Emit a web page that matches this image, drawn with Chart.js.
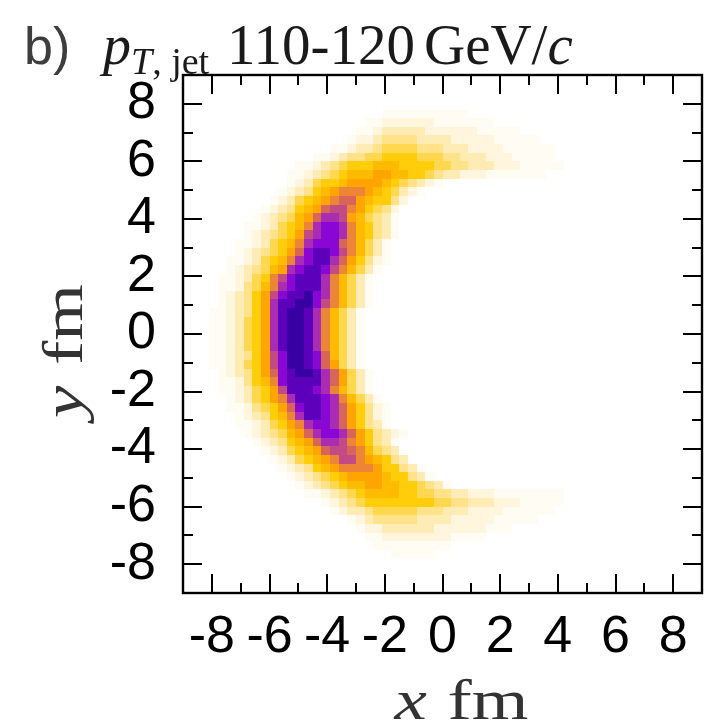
<!DOCTYPE html>
<html>
<head>
<meta charset="utf-8">
<script src="https://cdn.jsdelivr.net/npm/chart.js@4.4.1/dist/chart.umd.min.js"></script>
<style>
  html, body { margin: 0; padding: 0; background: #fff; }
</style>
</head>
<body>
<canvas id="chart" width="723" height="728"></canvas>
<script>
// Histogram binning (fm)
const xRange = [-9, 9];
const yRange = [-9, 9];
const binSize = 0.3;
const tickValues = [-8, -6, -4, -2, 0, 2, 4, 6, 8];

const panelTag = 'b)';
const ptRange = '110-120';

// Density per bin, hex level 0..f. One entry per row, from y = +9 downwards;
// rowStart is the first filled column, rowLevels the levels from there on.
const rowStart = [
    0, 0, 0, 0, 23, 21, 20, 19, 17, 15,
    13, 12, 12, 11, 10, 9, 8, 7, 7, 6,
    6, 5, 5, 4, 4, 4, 4, 3, 3, 3,
    3, 3, 3, 3, 4, 4, 4, 5, 5, 6,
    6, 7, 8, 9, 10, 11, 12, 13, 14, 16,
    17, 19, 20, 21, 22, 24, 0, 0, 0, 0,
];
const rowLevels = [
    '', '', '', '',
    '1111111111',
    '112222221111111',
    '1123333322222211111',
    '1223444433332222211111',
    '11233455554443332222111111',
    '1123445566665554433322211111',
    '1123456667776666554433322211111',
    '112345677788776654332221111111',
    '123566788887654321',
    '12346789998765321',
    '12356789aa876642',
    '1234678abb986542',
    '1234578accb875431',
    '11235679cddc976431',
    '1234568bcddc976431',
    '11235679cddda97531',
    '1234568adeedb97531',
    '11235679cdeeca86421',
    '1234578cdeedb97531',
    '1123569bdeeec97531',
    '1124579cdeeec97531',
    '123468bdeefdc97531',
    '123468ceeffdb97531',
    '1123468ceffec97531',
    '1123568ceffec97531',
    '1123568ceffec97531',
    '1123568ceffec97531',
    '1123568ceffec97531',
    '1123468bdffeda7531',
    '1123568bdffeda8531',
    '123468adeffeca8531',
    '1124679deeeeca8531',
    '1123568beeedc97531',
    '1235689ceeedc97531',
    '1124568adeedca86421',
    '1234679ceedca86421',
    '11235689cddca86431',
    '1234578acddca864321',
    '1234678accb986431',
    '1235678abba97543',
    '12356789bb987643',
    '12346789999866431',
    '12345678888766431',
    '123456778877665431',
    '112345677776655443322211111111',
    '1234566666666554433322211111',
    '12334555554443332222111111',
    '1234444433332222211111',
    '122333333222222111',
    '11222222221111',
    '111111111',
    '11111',
    '', '', '', '',
];

// white -> yellow -> orange -> magenta -> deep violet
const levelColors = [
    null, '#fffcf3', '#fff6dd', '#ffecb4', '#ffe289', '#ffd84f',
    '#ffcd0a', '#ffbb00', '#ffa400', '#ec8535', '#d8655a', '#c24b86',
    '#a92cb2', '#8a06d4', '#5c00bc', '#3800a2',
];

const cells = [];
rowLevels.forEach((levels, row) => {
    for (let i = 0; i < levels.length; i++) {
        const v = parseInt(levels[i], 16);
        if (!v) continue;
        cells.push({
            x: xRange[0] + binSize * (rowStart[row] + i + 0.5),
            y: yRange[1] - binSize * (row + 0.5),
            v: v,
        });
    }
});

const heatCells = {
    id: 'heatCells',
    beforeDatasetsDraw(chart) {
        const {ctx, chartArea: a, scales: {x, y}} = chart;
        const half = binSize / 2;
        ctx.save();
        ctx.beginPath();
        ctx.rect(a.left, a.top, a.width, a.height);
        ctx.clip();
        for (const c of chart.data.datasets[0].data) {
            const l = Math.round(x.getPixelForValue(c.x - half));
            const r = Math.round(x.getPixelForValue(c.x + half));
            const t = Math.round(y.getPixelForValue(c.y + half));
            const b = Math.round(y.getPixelForValue(c.y - half));
            ctx.fillStyle = levelColors[c.v];
            ctx.fillRect(l, t, r - l, b - t);
        }
        ctx.restore();
    },
};

// box with inward ticks on all four sides
const frameTicks = {
    id: 'frameTicks',
    afterDraw(chart) {
        const {ctx, chartArea: a, scales: {x, y}} = chart;
        ctx.save();
        ctx.strokeStyle = '#000';
        ctx.lineWidth = 2;
        ctx.beginPath();
        for (let v = Math.ceil(xRange[0]) + 1; v < xRange[1]; v++) {
            const len = v % 2 === 0 ? 19 : 10;
            const px = Math.round(x.getPixelForValue(v));
            ctx.moveTo(px, a.bottom);
            ctx.lineTo(px, a.bottom - len);
            ctx.moveTo(px, a.top);
            ctx.lineTo(px, a.top + len);
        }
        for (let v = Math.ceil(yRange[0]) + 1; v < yRange[1]; v++) {
            const len = v % 2 === 0 ? 19 : 10;
            const py = Math.round(y.getPixelForValue(v));
            ctx.moveTo(a.left, py);
            ctx.lineTo(a.left + len, py);
            ctx.moveTo(a.right, py);
            ctx.lineTo(a.right - len, py);
        }
        ctx.stroke();
        ctx.lineWidth = 2.4;
        ctx.strokeRect(a.left, a.top, a.width, a.height);
        ctx.restore();
    },
};

const serif = '"Liberation Serif", "Times New Roman", serif';

const titles = {
    id: 'titles',
    afterDraw(chart) {
        const ctx = chart.ctx;
        const a = chart.chartArea;
        ctx.save();
        ctx.textBaseline = 'alphabetic';
        ctx.textAlign = 'left';

        ctx.fillStyle = '#3d3d3d';
        ctx.font = '52px "Liberation Sans"';
        ctx.fillText(panelTag, 24, 64);

        let cx = 103;
        const run = (text, font, dy) => {
            ctx.font = font;
            ctx.fillText(text, cx, 64 + (dy || 0));
            cx += ctx.measureText(text).width;
        };
        ctx.fillStyle = '#1a1a1a';
        run('p', 'italic 56px ' + serif);
        run('T', 'italic 38px ' + serif, 10);
        run(', jet', '38px ' + serif, 10);
        cx += 18;
        run(ptRange, '57px ' + serif);
        cx += 9;
        run('GeV/', '57px ' + serif);
        run('c', 'italic 57px ' + serif);

        // axis titles, slightly widened like the math font
        const axisTitle = (sym, baseX, baseY, rot) => {
            ctx.save();
            ctx.translate(baseX, baseY);
            ctx.rotate(rot);
            ctx.scale(1.3, 1);
            ctx.font = 'italic 56px ' + serif;
            const w1 = ctx.measureText(sym).width + 16;
            ctx.font = '56px ' + serif;
            const w2 = ctx.measureText('fm').width;
            const px = -(w1 + w2) / 2;
            ctx.font = 'italic 56px ' + serif;
            ctx.fillText(sym, px, 0);
            ctx.font = '56px ' + serif;
            ctx.fillText('fm', px + w1, 0);
            ctx.restore();
        };
        ctx.fillStyle = '#333';
        axisTitle('x', (a.left + a.right) / 2 + 19, 719, 0);
        axisTitle('y', 82, (a.top + a.bottom) / 2 + 17, -Math.PI / 2);
        ctx.restore();
    },
};

const tickFont = {family: '"Liberation Sans", Arial, sans-serif', size: 52};

new Chart(document.getElementById('chart'), {
    type: 'scatter',
    data: {
        datasets: [{
            data: cells,
            pointRadius: 0,
            pointHoverRadius: 0,
        }],
    },
    options: {
        responsive: false,
        animation: false,
        events: [],
        layout: {padding: {top: 75, right: 21, bottom: 0, left: 0}},
        plugins: {
            legend: {display: false},
            tooltip: {enabled: false},
        },
        scales: {
            x: {
                type: 'linear',
                min: xRange[0],
                max: xRange[1],
                afterBuildTicks: (s) => {
                    s.ticks = tickValues.map((v) => ({value: v}));
                },
                afterFit: (s) => {
                    s.height = 135;
                },
                ticks: {
                    font: tickFont,
                    color: '#000',
                    padding: 13,
                    maxRotation: 0,
                    autoSkip: false,
                    callback: (v) => String(v),
                },
                grid: {display: false, drawTicks: false},
                border: {display: false},
            },
            y: {
                type: 'linear',
                min: yRange[0],
                max: yRange[1],
                afterBuildTicks: (s) => {
                    s.ticks = tickValues.map((v) => ({value: v}));
                },
                afterFit: (s) => {
                    s.width = 183;
                },
                ticks: {
                    font: tickFont,
                    color: '#000',
                    padding: 27,
                    autoSkip: false,
                    callback: (v) => String(v),
                },
                grid: {display: false, drawTicks: false},
                border: {display: false},
            },
        },
    },
    plugins: [heatCells, frameTicks, titles],
});
</script>
</body>
</html>
